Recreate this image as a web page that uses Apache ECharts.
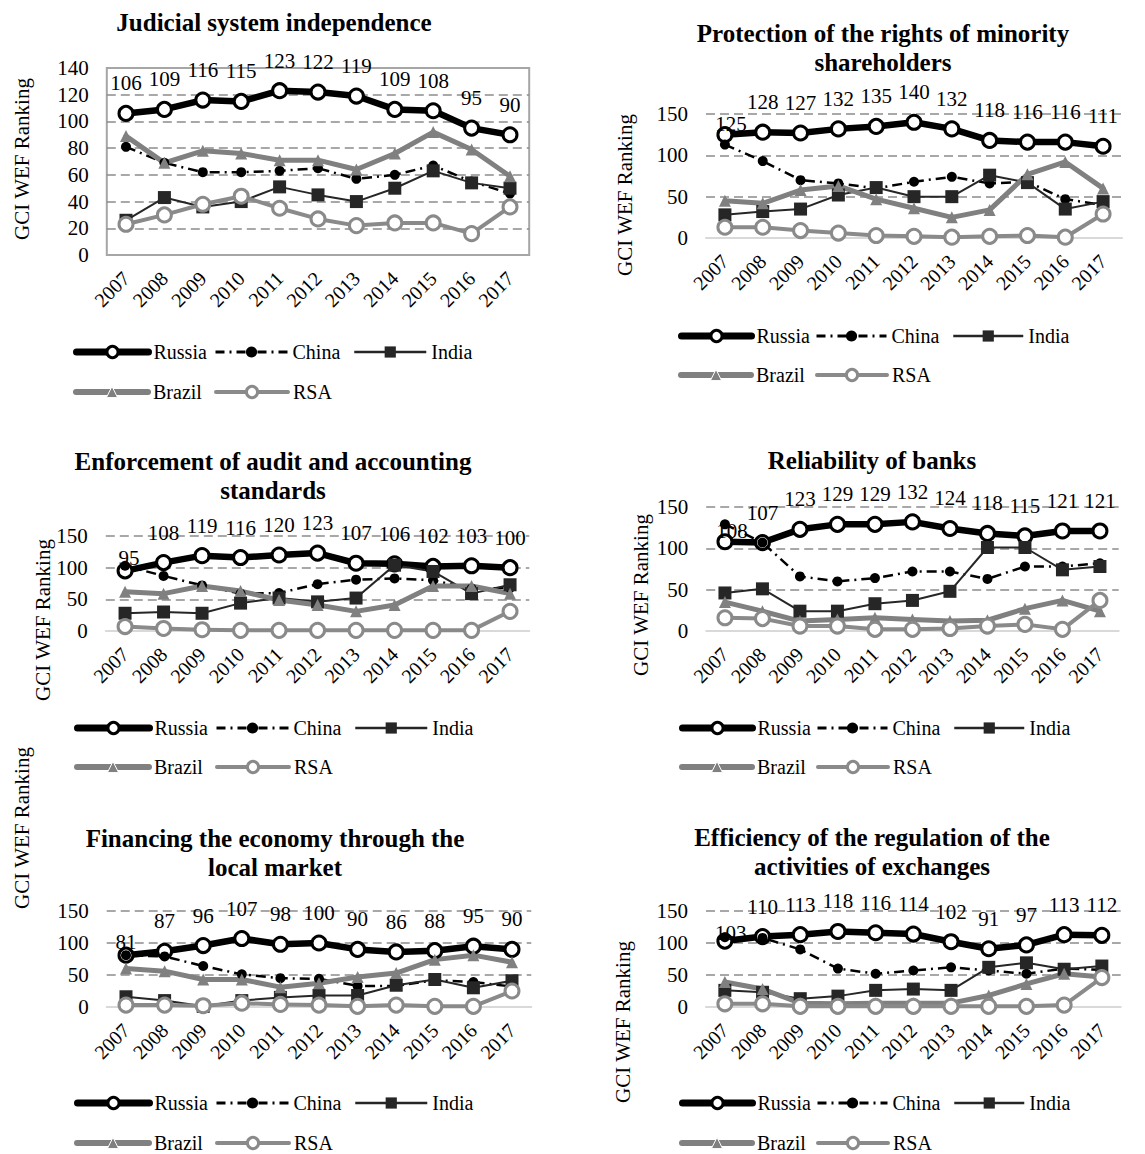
<!DOCTYPE html>
<html>
<head>
<meta charset="utf-8">
<script src="https://cdn.jsdelivr.net/npm/echarts@6/dist/echarts.min.js"></script>
<style>
  html, body { margin: 0; padding: 0; background: #fff; }
  #chart { width: 1145px; height: 1154px; }
</style>
</head>
<body>
<div id="chart"></div>
<script>
// Years on the category axis
const years = ['2007', '2008', '2009', '2010', '2011', '2012', '2013', '2014', '2015', '2016', '2017'];
const countries = ['Russia', 'China', 'India', 'Brazil', 'RSA'];

// Judicial system independence
const judicialRussia = [106, 109, 116, 115, 123, 122, 119, 109, 108, 95, 90];
const judicialChina  = [81, 69, 62, 62, 63, 65, 57, 60, 67, 55, 46];
const judicialIndia  = [26, 43, 36, 40, 51, 45, 40, 50, 63, 54, 50];
const judicialBrazil = [89, 69, 78, 76, 71, 71, 64, 76, 92, 79, 59];
const judicialRSA    = [23, 30, 38, 44, 35, 27, 22, 24, 24, 16, 36];

// Protection of the rights of minority shareholders
const minorityRussia = [125, 128, 127, 132, 135, 140, 132, 118, 116, 116, 111];
const minorityChina  = [113, 93, 70, 66, 60, 68, 74, 66, 68, 47, 40];
const minorityIndia  = [28, 32, 35, 52, 61, 50, 50, 76, 67, 35, 44];
const minorityBrazil = [45, 42, 58, 63, 47, 36, 25, 34, 77, 92, 60];
const minorityRSA    = [13, 13, 9, 6, 3, 2, 1, 2, 3, 1, 29];

// Enforcement of audit and accounting standards
const auditRussia = [95, 108, 119, 116, 120, 123, 107, 106, 102, 103, 100];
const auditChina  = [103, 87, 72, 59, 60, 74, 81, 83, 80, 67, 68];
const auditIndia  = [28, 30, 28, 44, 52, 46, 52, 104, 94, 59, 73];
const auditBrazil = [62, 59, 71, 63, 49, 41, 31, 41, 71, 71, 59];
const auditRSA    = [7, 4, 2, 1, 1, 1, 1, 1, 1, 1, 31];

// Reliability of banks
const banksRussia = [108, 107, 123, 129, 129, 132, 124, 118, 115, 121, 121];
const banksChina  = [129, 107, 66, 60, 64, 72, 72, 63, 78, 78, 82];
const banksIndia  = [46, 51, 24, 24, 33, 37, 48, 101, 101, 74, 78];
const banksBrazil = [35, 24, 12, 14, 16, 14, 12, 13, 27, 37, 24];
const banksRSA    = [16, 15, 6, 6, 2, 2, 3, 6, 8, 2, 37];

// Financing the economy through the local market
const financingRussia = [81, 87, 96, 107, 98, 100, 90, 86, 88, 95, 90];
const financingChina  = [81, 79, 64, 51, 45, 44, 33, 33, 42, 39, 32];
const financingIndia  = [16, 10, 1, 10, 15, 18, 18, 34, 43, 30, 41];
const financingBrazil = [60, 56, 43, 43, 31, 37, 47, 53, 74, 81, 70];
const financingRSA    = [3, 3, 2, 6, 4, 3, 1, 3, 1, 1, 25];

// Efficiency of the regulation of the activities of exchanges
const exchangesRussia = [103, 110, 113, 118, 116, 114, 102, 91, 97, 113, 112];
const exchangesChina  = [109, 108, 90, 60, 52, 57, 62, 57, 52, 60, 58];
const exchangesIndia  = [26, 23, 13, 17, 26, 28, 26, 62, 69, 59, 64];
const exchangesBrazil = [39, 28, 6, 5, 6, 6, 6, 18, 36, 52, 47];
const exchangesRSA    = [5, 5, 1, 1, 1, 1, 1, 1, 1, 3, 46];

const FONT = '"Liberation Serif", "Times New Roman", Times, serif';
const AXIS_NAME = 'GCI WEF Ranking';

// Panel layout: plot rectangle, title / axis-name anchors, legend placement
const panels = [
  {
    title: 'Judicial system independence',
    series: [judicialRussia, judicialChina, judicialIndia, judicialBrazil, judicialRSA],
    max: 140, interval: 20, framed: true,
    grid: { left: 106.8, top: 68, width: 422.4, height: 187 },
    titleAt: [274, 22], nameAt: [22, 159],
    legendLeft: 73, legendRows: [352, 392], legendCols: [0, 141, 280], legendLine: 72,
    firstLabelOffset: null
  },
  {
    title: 'Protection of the rights of minority\nshareholders',
    series: [minorityRussia, minorityChina, minorityIndia, minorityBrazil, minorityRSA],
    max: 150, interval: 50, framed: false,
    grid: { left: 706, top: 114, width: 416, height: 124 },
    titleAt: [883, 47.5], nameAt: [625, 195],
    legendLeft: 678, legendRows: [336, 375], legendCols: [0, 137, 274], legendLine: 70,
    firstLabelOffset: [6, 19]
  },
  {
    title: 'Enforcement of audit and accounting\nstandards',
    series: [auditRussia, auditChina, auditIndia, auditBrazil, auditRSA],
    max: 150, interval: 50, framed: false,
    grid: { left: 105.8, top: 536, width: 423.5, height: 95 },
    titleAt: [273, 476], nameAt: [43, 620],
    legendLeft: 74, legendRows: [728, 767], legendCols: [0, 141, 280], legendLine: 72,
    firstLabelOffset: [4, 17]
  },
  {
    title: 'Reliability of banks',
    series: [banksRussia, banksChina, banksIndia, banksBrazil, banksRSA],
    max: 150, interval: 50, framed: false,
    grid: { left: 706.2, top: 507, width: 412.5, height: 124 },
    titleAt: [872, 460], nameAt: [641, 595],
    legendLeft: 679, legendRows: [728, 767], legendCols: [0, 137, 274], legendLine: 70,
    firstLabelOffset: [7, 19]
  },
  {
    title: 'Financing the economy through the\nlocal market',
    series: [financingRussia, financingChina, financingIndia, financingBrazil, financingRSA],
    max: 150, interval: 50, framed: false,
    grid: { left: 106.7, top: 911, width: 424.6, height: 96 },
    titleAt: [275, 852.5], nameAt: [22, 828],
    legendLeft: 74, legendRows: [1103, 1143], legendCols: [0, 141, 280], legendLine: 72,
    firstLabelOffset: [0, 17]
  },
  {
    title: 'Efficiency of the regulation of the\nactivities of exchanges',
    series: [exchangesRussia, exchangesChina, exchangesIndia, exchangesBrazil, exchangesRSA],
    max: 150, interval: 50, framed: false,
    grid: { left: 706, top: 911, width: 414.7, height: 96 },
    titleAt: [872, 851.5], nameAt: [623, 1022],
    legendLeft: 679, legendRows: [1103, 1143], legendCols: [0, 137, 274], legendLine: 70,
    firstLabelOffset: [6, 22]
  }
];

// Line / marker styling per country
const countryStyle = {
  Russia: {
    symbol: 'circle', symbolSize: 14,
    lineStyle: { color: '#000', width: 6.5, cap: 'round', join: 'round' },
    itemStyle: { color: '#fff', borderColor: '#000', borderWidth: 3 },
    legendLine: { color: '#000', width: 7, cap: 'round' },
    legendItem: { color: '#fff', borderColor: '#000', borderWidth: 3 }
  },
  China: {
    symbol: 'circle', symbolSize: 10,
    lineStyle: { color: '#000', width: 2.5, type: [10, 5, 2, 5] },
    itemStyle: { color: '#000' },
    legendLine: { color: '#000', width: 3, type: [9, 5, 2, 5] },
    legendItem: { color: '#000', borderWidth: 0 }
  },
  India: {
    symbol: 'rect', symbolSize: 13,
    lineStyle: { color: '#262626', width: 2 },
    itemStyle: { color: '#262626' },
    legendLine: { color: '#262626', width: 2.5 },
    legendItem: { color: '#262626', borderWidth: 0 }
  },
  Brazil: {
    symbol: 'triangle', symbolSize: 12,
    lineStyle: { color: '#808080', width: 5, cap: 'round', join: 'round' },
    itemStyle: { color: '#808080' },
    legendLine: { color: '#808080', width: 6, cap: 'round' },
    legendItem: { color: '#808080', borderColor: '#fff', borderWidth: 1 }
  },
  RSA: {
    symbol: 'circle', symbolSize: 14,
    lineStyle: { color: '#8a8a8a', width: 4, cap: 'round', join: 'round' },
    itemStyle: { color: '#fff', borderColor: '#8a8a8a', borderWidth: 3 },
    legendLine: { color: '#8a8a8a', width: 4, cap: 'round' },
    legendItem: { color: '#fff', borderColor: '#8a8a8a', borderWidth: 3 }
  }
};

const grids = [], xAxes = [], yAxes = [], series = [], legends = [], graphics = [];

panels.forEach((p, i) => {
  grids.push(Object.assign({
    show: p.framed, borderColor: '#a6a6a6', borderWidth: 2, containLabel: false
  }, p.grid));

  xAxes.push({
    type: 'category', gridIndex: i, data: years, boundaryGap: true,
    axisTick: { show: false },
    axisLine: { show: true, lineStyle: { color: p.framed ? '#a6a6a6' : '#d9d9d9', width: 2 } },
    axisLabel: { interval: 0, rotate: 45, margin: 20, fontSize: 20, fontFamily: FONT, color: '#000' }
  });

  yAxes.push({
    type: 'value', gridIndex: i, min: 0, max: p.max, interval: p.interval,
    axisLine: { show: false }, axisTick: { show: false },
    axisLabel: { margin: 18, fontSize: 21, fontFamily: FONT, color: '#000' },
    splitLine: {
      show: true, showMinLine: false, showMaxLine: !p.framed,
      lineStyle: { color: '#8c8c8c', width: 1.5, type: [9, 5] }
    }
  });

  countries.forEach((c, k) => {
    const values = p.series[k];
    const st = countryStyle[c];
    const s = {
      type: 'line', name: c, xAxisIndex: i, yAxisIndex: i,
      symbol: st.symbol, symbolSize: st.symbolSize, showSymbol: true,
      lineStyle: st.lineStyle, itemStyle: st.itemStyle,
      emphasis: { disabled: true },
      data: values
    };
    if (c === 'Russia') {
      s.label = { show: true, position: 'top', distance: 11, fontSize: 21, fontFamily: FONT, color: '#000' };
      if (p.firstLabelOffset) {
        s.data = values.map((v, j) => j === 0 ? { value: v, label: { offset: p.firstLabelOffset } } : v);
      }
    }
    series.push(s);
  });

  // Legend: one component per entry so each sits in its own column
  const rows = [['Russia', 'China', 'India'], ['Brazil', 'RSA']];
  rows.forEach((row, r) => {
    row.forEach((name, col) => {
      const st = countryStyle[name];
      legends.push({
        data: [name],
        left: p.legendLeft + p.legendCols[col],
        top: p.legendRows[r] - 11,
        padding: 0,
        itemWidth: p.legendLine, itemHeight: 14,
        selectedMode: false,
        lineStyle: st.legendLine,
        itemStyle: st.legendItem,
        textStyle: { fontSize: 20, fontFamily: FONT, color: '#000', lineHeight: 22 }
      });
    });
  });

  // Panel title
  graphics.push({
    type: 'text', x: p.titleAt[0], y: p.titleAt[1],
    style: {
      text: p.title, font: 'bold 25px ' + FONT, fill: '#000',
      align: 'center', verticalAlign: 'middle', textAlign: 'center', textVerticalAlign: 'middle',
      lineHeight: 29
    }
  });

  // Vertical axis name
  graphics.push({
    type: 'text', x: p.nameAt[0], y: p.nameAt[1], rotation: Math.PI / 2,
    style: {
      text: AXIS_NAME, font: '21px ' + FONT, fill: '#000',
      align: 'center', verticalAlign: 'middle', textAlign: 'center', textVerticalAlign: 'middle'
    }
  });
});

const chart = echarts.init(document.getElementById('chart'), null, { renderer: 'svg', width: 1145, height: 1154 });
chart.setOption({
  backgroundColor: '#fff',
  animation: false,
  grid: grids,
  xAxis: xAxes,
  yAxis: yAxes,
  legend: legends,
  series: series,
  graphic: graphics
});
</script>
</body>
</html>
